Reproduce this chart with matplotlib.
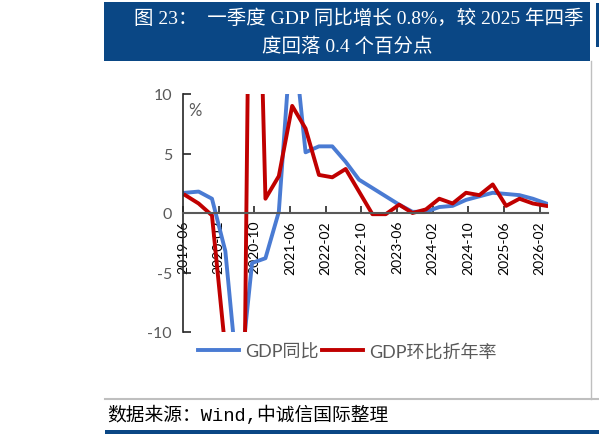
import matplotlib.pyplot as plt
import numpy as np
import pandas as pd
from matplotlib.lines import Line2D
from matplotlib.patches import Rectangle

plt.rcParams['font.family'] = ['Lato', 'Noto Sans CJK SC', 'DejaVu Sans']

# quarterly observations, 2019Q2 .. 2026Q1 (quarter-end months)
quarters = pd.period_range("2019-06", "2026-03", freq="M")[::3]
gdp_yoy = [1.7, 1.8, 1.2, -3.2, -15.0, -4.2, -3.8, 0.1,
           16.0, 5.1, 5.6, 5.6, 4.3, 2.8, 2.1, 1.4,
           0.7, 0.1, 0.1, 0.5, 0.6, 1.1, 1.4, 1.7,
           1.6, 1.5, 1.2, 0.8]
gdp_qoq_ann = [1.5, 0.8, -0.2, -11.5, -60.0, 45.0, 1.2, 3.1,
               9.0, 7.1, 3.2, 3.0, 3.7, 1.8, -0.1, -0.1,
               0.7, 0.0, 0.3, 1.2, 0.8, 1.7, 1.5, 2.4,
               0.6, 1.2, 0.8, 0.6]
tick_months = pd.period_range("2019-06", "2026-02", freq="M")[::8]

title_line1 = "图 23：  一季度 GDP 同比增长 0.8%，较 2025 年四季"
title_line2 = "度回落 0.4 个百分点"
source = "数据来源：Wind,中诚信国际整理"

navy = '#0A4785'
blue = '#4A7BD3'
red = '#C00000'
grey = '#595959'

W, H = 599, 435
fig = plt.figure(figsize=(W / 100, H / 100), dpi=100)

# title banner
fig.add_artist(Rectangle((104 / W, 1 - 62 / H), (590 - 104) / W, 59 / H,
                         transform=fig.transFigure, color=navy, lw=0))
fig.add_artist(Rectangle((596 / W, 1 - 48 / H), 3 / W, 44 / H,
                         transform=fig.transFigure, color=navy, lw=0))
fig.add_artist(Line2D([591 / W] * 2, [1 - 62 / H, 1 - 400 / H], color='#BFBFBF',
                      lw=1, transform=fig.transFigure))
fig.text(359 / W, 1 - 19 / H, title_line1, color='white', fontsize=14,
         ha='center', va='center', family=['Liberation Serif', 'Noto Sans CJK SC'])
fig.text(347 / W, 1 - 47 / H, title_line2, color='white', fontsize=14,
         ha='center', va='center', family=['Liberation Serif', 'Noto Sans CJK SC'])

ax = fig.add_axes([183 / W, 1 - 333 / H, (548 - 183) / W, (333 - 95) / H])

# months since 2019-06 (observation taken mid-month)
start = quarters[0]
xq = np.array([(q - start).n for q in quarters]) + 0.5
xt = np.array([(t - start).n for t in tick_months])

ax.plot(xq, gdp_yoy, color=blue, lw=2.8, label='GDP同比')
ax.plot(xq, gdp_qoq_ann, color=red, lw=2.8, label='GDP环比折年率')

ax.set_ylim(-10, 10)
ax.set_xlim(0, 81.9)
ax.set_yticks([-10, -5, 0, 5, 10])
ax.set_yticklabels(['-10', '-5', '0', '5', '10'], color=grey, fontsize=11.5)

ax.set_xticks(xt)
ax.set_xticklabels([p.strftime('%Y-%m') for p in tick_months], color=grey,
                   fontsize=11.5)
ax.tick_params(axis='x', labelrotation=90)

for s in ['top', 'right']:
    ax.spines[s].set_visible(False)
ax.spines['bottom'].set_position(('data', 0))
ax.spines['bottom'].set_color(grey)
ax.spines['bottom'].set_linewidth(1.5)
ax.spines['left'].set_color('#262626')
ax.spines['left'].set_linewidth(1.2)
ax.tick_params(axis='y', direction='in', length=6, width=1.2, color='#262626', pad=8)
ax.tick_params(axis='x', direction='in', length=5, width=1.2, color='#262626', pad=5)

ax.text(0.015, 0.965, '%', transform=ax.transAxes, ha='left', va='top',
        color=grey, fontsize=12)

fig.legend(loc='center', bbox_to_anchor=(347 / W, 1 - 352 / H), ncol=2,
           frameon=False, fontsize=13, labelcolor=grey, handlelength=2.3,
           handletextpad=0.3, columnspacing=0.2)

# footer
fig.add_artist(Line2D([105 / W, 1], [1 - 400 / H] * 2, color='#BFBFBF', lw=1.5,
                      transform=fig.transFigure))
fig.text(107 / W, 1 - 415 / H, source, fontsize=13.5, ha='left', va='center',
         color='black', family=['Liberation Mono', 'Noto Sans CJK SC'])
fig.add_artist(Rectangle((105 / W, 0), 1, 4 / H, transform=fig.transFigure,
                         color=navy, lw=0))

fig.savefig('out.png', dpi=100)
